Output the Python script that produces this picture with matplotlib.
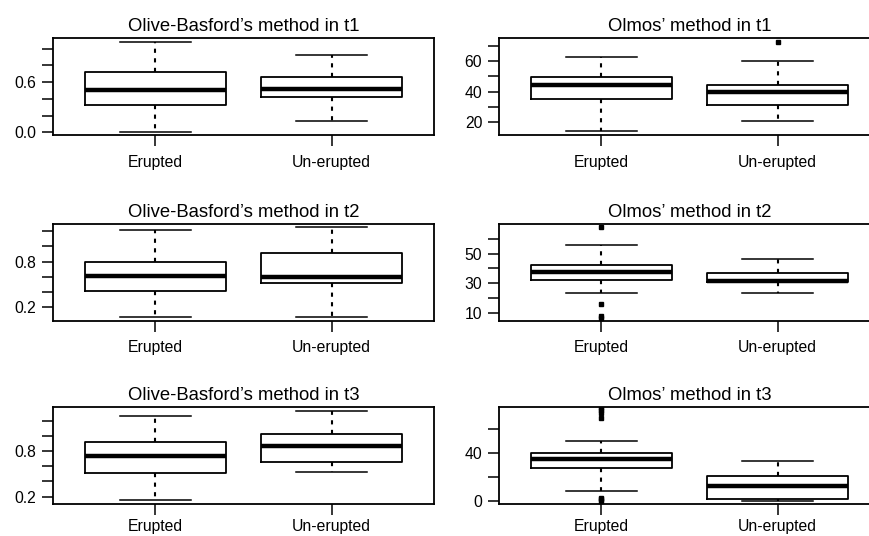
import numpy as np
import matplotlib
matplotlib.use('Agg')
import matplotlib.pyplot as plt

plt.rcParams['font.family'] = ['Liberation Sans', 'DejaVu Sans']

groups = ['Erupted', 'Un-erupted']

titles = ["Olive-Basford\u2019s method in t1", "Olmos\u2019 method in t1",
          "Olive-Basford\u2019s method in t2", "Olmos\u2019 method in t2",
          "Olive-Basford\u2019s method in t3", "Olmos\u2019 method in t3"]

# per panel, per group: lower whisker, Q1, median, Q3, upper whisker
ob_t1 = [[0.00, 0.33, 0.50, 0.72, 1.08], [0.13, 0.42, 0.515, 0.66, 0.93]]
ol_t1 = [[14.2, 35.4, 44.5, 49.9, 62.4], [20.6, 31.5, 39.7, 44.5, 60.0]]
ob_t2 = [[0.07, 0.42, 0.615, 0.80, 1.21], [0.07, 0.515, 0.595, 0.92, 1.25]]
ol_t2 = [[23.1, 32.0, 37.2, 42.2, 55.6], [23.1, 30.5, 31.5, 37.0, 46.2]]
ob_t3 = [[0.16, 0.51, 0.74, 0.92, 1.26], [0.53, 0.65, 0.87, 1.03, 1.33]]
ol_t3 = [[8.2, 27.4, 35.2, 40.6, 50.7], [0.0, 1.2, 12.4, 21.1, 33.8]]

# outliers
fl_t1 = [[], []], [[], [72.6]]
fl_t2 = [[], []], [[68.0, 15.9, 7.5, 6.6], []]
fl_t3 = [[], []], [[78.0, 76.0, 73.9, 69.6, 2.0, 1.0, 0.0], []]

summaries = [ob_t1, ol_t1, ob_t2, ol_t2, ob_t3, ol_t3]
fliers = [fl_t1[0], fl_t1[1], fl_t2[0], fl_t2[1], fl_t3[0], fl_t3[1]]

yticks = [np.arange(0.0, 1.01, 0.2), np.arange(20, 71, 10),
          np.arange(0.2, 1.21, 0.2), np.arange(10, 61, 10),
          np.arange(0.2, 1.21, 0.2), np.arange(0, 61, 20)]
ylabels = [{0.0: '0.0', 0.6: '0.6'}, {20: '20', 40: '40', 60: '60'},
           {0.2: '0.2', 0.8: '0.8'}, {10: '10', 30: '30', 50: '50'},
           {0.2: '0.2', 0.8: '0.8'}, {0: '0', 40: '40'}]
ylims = [(-0.036, 1.124), (11.6, 74.8), (0.024, 1.292), (4.6, 69.8),
         (0.104, 1.384), (-2.8, 79.2)]

fig = plt.figure(figsize=(8.7, 5.36), dpi=100)

lefts = [53 / 870, 499 / 870]
width = 381 / 870
rows = [(135.3, 97), (320.7, 96.5), (504, 97.3)]

for i in range(6):
    r, c = divmod(i, 2)
    bot, h = rows[r]
    ax = fig.add_axes([lefts[c], 1 - bot / 536, width, h / 536])

    stats = []
    for g in range(2):
        lo, q1, med, q3, hi = summaries[i][g]
        stats.append(dict(whislo=lo, q1=q1, med=med, q3=q3, whishi=hi,
                          fliers=fliers[i][g], label=groups[g]))

    ax.bxp(stats, positions=[1, 2], widths=0.8, capwidths=0.4,
           boxprops=dict(color='black', linewidth=1.3),
           medianprops=dict(color='black', linewidth=3.2, solid_capstyle='butt'),
           whiskerprops=dict(color='black', linewidth=1.5, linestyle=(0, (2.0, 2.6))),
           capprops=dict(color='black', linewidth=1.1),
           flierprops=dict(marker='s', markersize=3.5, markerfacecolor='black',
                           markeredgecolor='black', linestyle='none'))

    ax.set_xlim(0.42, 2.58)
    ax.set_ylim(*ylims[i])
    ax.set_yticks(yticks[i])
    ax.set_yticklabels([ylabels[i].get(round(float(v), 2), '') for v in yticks[i]])
    ax.tick_params(axis='y', length=8, width=1.1, pad=4, labelsize=11.3)
    # bottom row labels sit at the very edge of the figure
    ax.tick_params(axis='x', length=8, width=1.1, pad=6 if r < 2 else 2.5,
                   labelsize=11.3)
    for s in ax.spines.values():
        s.set_linewidth(1.3)
    ax.set_title(titles[i], fontsize=13.3, pad=5)

fig.savefig('out.png', dpi=100)
